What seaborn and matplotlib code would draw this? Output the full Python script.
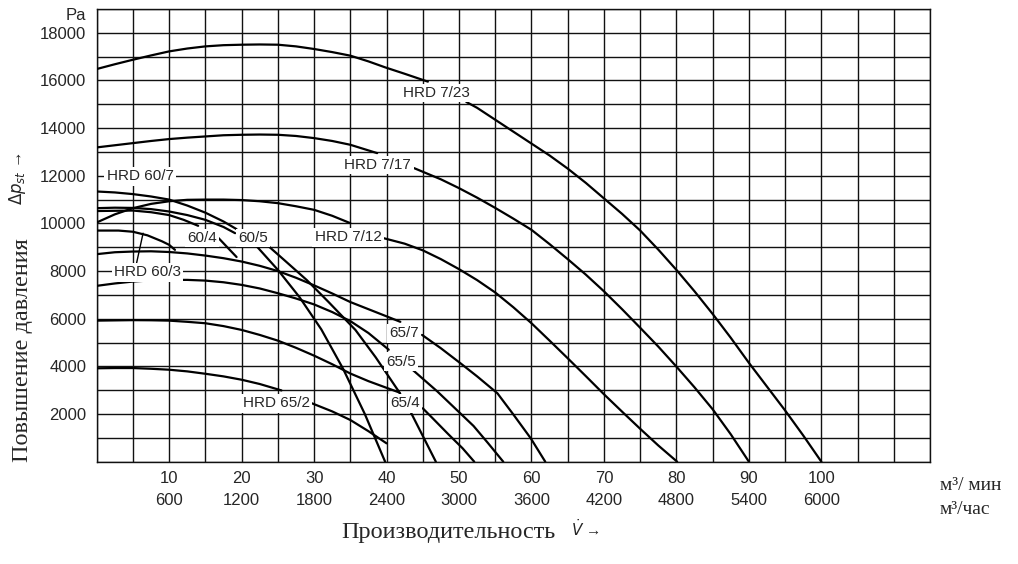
import pandas as pd
import numpy as np
import matplotlib.pyplot as plt
import seaborn as sns

# style
sns.set_style("white")
plt.rcParams['font.family'] = ['Liberation Sans', 'DejaVu Sans']
plt.rcParams['mathtext.fontset'] = 'dejavusans'

# data: flow in m3/min, pressure rise in Pa
flow_ticks = [10, 20, 30, 40, 50, 60, 70, 80, 90, 100]
flow_hour = [600, 1200, 1800, 2400, 3000, 3600, 4200, 4800, 5400, 6000]
pressure_ticks = [2000, 4000, 6000, 8000, 10000, 12000, 14000, 16000, 18000]

hrd_7_23_x = [0, 2.5, 5, 7.5, 10, 12.5, 15, 17.5, 20, 22.5, 25, 27.5, 30, 32.5, 35, 37.5, 39.8, 42.5, 45.7,
              51, 52.5, 55, 57.5, 60, 62.5, 65, 67.5, 70, 72.5, 75, 77.5, 80, 82.5, 85, 87.5, 90, 92.5, 95, 97.5, 100]
hrd_7_23_y = [16480, 16680, 16870, 17050, 17220, 17340, 17430, 17480, 17500, 17510, 17500, 17430, 17320,
              17190, 17040, 16800, 16550, 16280, 15950,
              15100, 14850, 14350, 13850, 13350, 12850, 12300, 11700, 11050, 10400, 9700, 8900, 8050,
              7150, 6200, 5200, 4150, 3150, 2150, 1100, 0]

hrd_7_17_x = [0, 2.5, 5, 7.5, 10, 12.5, 15, 17.5, 20, 22.5, 25, 27.5, 30, 32.5, 35, 38.7,
              43.8, 47.5, 50, 52.5, 55, 57.5, 60, 62.5, 65, 67.5, 70, 72.5, 75, 77.5, 80, 82.5, 85, 87.5, 90]
hrd_7_17_y = [13190, 13280, 13370, 13460, 13540, 13600, 13650, 13700, 13720, 13730, 13720, 13670, 13580,
              13460, 13300, 12950,
              12320, 11850, 11480, 11080, 10650, 10200, 9730, 9130, 8500, 7850, 7150, 6400, 5620, 4830,
              3990, 3120, 2200, 1150, 0]

hrd_7_12_x = [0, 2.5, 5, 7.5, 10, 12.5, 15, 17.5, 20, 22.5, 25, 27.5, 30, 32.5, 35,
              39.6, 42.5, 45, 47.5, 50, 52.5, 55, 57.5, 60, 62.5, 65, 67.5, 70, 72.5, 75, 77.5, 80.1]
hrd_7_12_y = [10040, 10380, 10640, 10820, 10930, 10990, 11000, 11000, 10980, 10930, 10850, 10720, 10570,
              10320, 10010,
              9380, 9150, 8870, 8500, 8080, 7620, 7100, 6480, 5810, 5080, 4340, 3590, 2830, 2100, 1380, 680, 0]

hrd_60_7_x = [0, 2.5, 5, 7.5, 10, 12.5, 15, 17.5, 19.3, 21.9, 25, 28, 31, 34, 37, 39.8]
hrd_60_7_y = [11340, 11300, 11230, 11130, 11000, 10750, 10450, 10080, 9760,
              9100, 8050, 6900, 5550, 3900, 2000, 0]

hrd_60_5_x = [0, 2.5, 5, 7.5, 10, 12.5, 15, 17.5, 19.1, 23.5, 26, 29, 32, 35.7, 38.5, 41.7, 43.3, 46.8]
hrd_60_5_y = [10640, 10660, 10650, 10600, 10500, 10350, 10150, 9850, 9590,
              9100, 8430, 7620, 6700, 5530, 4380, 2940, 2100, 0]

hrd_60_4_x = [0, 5, 7.5, 10, 12, 14, 16.8, 19.3]
hrd_60_4_y = [10520, 10540, 10470, 10350, 10150, 9900, 9390, 8590]

hrd_60_3_x = [0, 3, 5, 7, 9, 10, 10.8]
hrd_60_3_y = [9700, 9700, 9650, 9500, 9250, 9100, 8890]

hrd_65_7_x = [0, 2.5, 5, 7.5, 10, 12.5, 15, 17.5, 20, 22.5, 25, 27.5, 30, 32.5, 35, 37.5, 40, 41.9,
              44.9, 47.5, 50.2, 52.5, 55.3, 57.5, 59.9, 61.9]
hrd_65_7_y = [8710, 8790, 8820, 8830, 8800, 8740, 8650, 8540, 8400, 8220, 8000, 7720, 7400, 7060, 6700,
              6400, 6100, 5870,
              5320, 4760, 4130, 3580, 2870, 1980, 980, 0]

hrd_65_5_x = [0, 2.5, 5, 7.5, 10, 12.5, 15, 17.5, 20, 22.5, 25, 27.5, 30, 32.5, 35, 37.5, 40.3,
              43.5, 47, 50, 52, 54, 56.1]
hrd_65_5_y = [7380, 7480, 7560, 7610, 7630, 7630, 7600, 7530, 7420, 7270, 7070, 6850, 6600, 6280, 5900,
              5400, 4700,
              3880, 2950, 2080, 1500, 780, 0]

hrd_65_4_x = [0, 2.5, 5, 7.5, 10, 12.5, 15, 17.5, 20, 22.5, 25, 27.5, 30, 32.5, 35, 37.5, 40, 41.8,
              45, 46.5, 48.5, 50.5, 52.1]
hrd_65_4_y = [5920, 5930, 5940, 5935, 5920, 5870, 5810, 5690, 5530, 5320, 5080, 4780, 4450, 4090, 3700,
              3380, 3100, 2900,
              2240, 1780, 1160, 560, 0]

hrd_65_2_x = [0, 2.5, 5, 7.5, 10, 12.5, 15, 17.5, 20, 22.5, 25.5, 29.7, 32.5, 35, 37.5, 40]
hrd_65_2_y = [3920, 3930, 3930, 3900, 3860, 3790, 3690, 3580, 3440, 3260, 2990,
              2450, 2110, 1750, 1280, 770]

# curve name, x, y, first point after the gap left for its label
curves = [
    ("HRD 7/23", hrd_7_23_x, hrd_7_23_y, 19),
    ("HRD 7/17", hrd_7_17_x, hrd_7_17_y, 16),
    ("HRD 7/12", hrd_7_12_x, hrd_7_12_y, 15),
    ("HRD 60/7", hrd_60_7_x, hrd_60_7_y, 9),
    ("HRD 60/5", hrd_60_5_x, hrd_60_5_y, 9),
    ("HRD 60/4", hrd_60_4_x, hrd_60_4_y, 6),
    ("HRD 60/3", hrd_60_3_x, hrd_60_3_y, 99),
    ("HRD 65/7", hrd_65_7_x, hrd_65_7_y, 18),
    ("HRD 65/5", hrd_65_5_x, hrd_65_5_y, 17),
    ("HRD 65/4", hrd_65_4_x, hrd_65_4_y, 18),
    ("HRD 65/2", hrd_65_2_x, hrd_65_2_y, 11),
]

rows = []
for name, xs, ys, gap in curves:
    for i, (x, y) in enumerate(zip(xs, ys)):
        rows.append({"flow": x, "pressure": y, "piece": name + ("-b" if i >= gap else "-a")})
df = pd.DataFrame(rows)

# figure
fig = plt.figure(figsize=(10.18, 5.64), dpi=100)
ax = fig.add_axes([0.095, 0.1814, 0.8186, 0.8027])

sns.lineplot(data=df, x="flow", y="pressure", units="piece", estimator=None, sort=False,
             color="black", lw=1.6, ax=ax, legend=False, zorder=3)

ax.set_xlim(0, 115)
ax.set_ylim(0, 19000)
ax.set_xticks(np.arange(0, 116, 5))
ax.set_xticklabels([f"{v}\n{flow_hour[flow_ticks.index(v)]}" if v in flow_ticks else ""
                    for v in range(0, 116, 5)], fontsize=12, linespacing=1.6)
ax.set_yticks(np.arange(0, 19001, 1000))
ax.set_yticklabels([f"{v}" if v in pressure_ticks else "" for v in range(0, 19001, 1000)], fontsize=12)
ax.tick_params(length=0, pad=6.5)
ax.tick_params(axis="y", pad=7.5)
ax.grid(True, color="#111111", lw=1.0)
ax.set_axisbelow(True)
for s in ax.spines.values():
    s.set_color("#111111")
    s.set_linewidth(1.0)
ax.set_xlabel("")
ax.set_ylabel("")

# curve labels with white background
box = dict(boxstyle="square,pad=0.15", fc="white", ec="none")
label_pos = {
    "HRD 7/23": (46.9, 15470), "HRD 7/17": (38.8, 12460), "HRD 7/12": (34.7, 9420),
    "HRD 60/7": (6.0, 11970), "60/4": (14.5, 9380), "60/5": (21.6, 9380),
    "HRD 65/2": (24.8, 2450), "65/7": (42.4, 5390), "65/5": (42.0, 4200), "65/4": (42.5, 2450),
}
for txt, (x, y) in label_pos.items():
    ax.text(x, y, txt, ha="center", va="center", fontsize=11, bbox=box, zorder=5)

ax.annotate("HRD 60/3", xy=(6.4, 9590), xytext=(7.0, 7940), ha="center", va="center",
            fontsize=11, bbox=box, zorder=5,
            arrowprops=dict(arrowstyle="-", lw=1.0, color="black", relpos=(0.33, 1.0),
                            shrinkA=0, shrinkB=0))

# axis captions
fig.text(0.0845, 0.973, "Pa", ha="right", va="center", fontsize=12)
fig.text(0.022, 0.379, "Повышение давления", rotation=90, ha="center", va="center",
         fontsize=17.5, family="Liberation Serif")
fig.text(0.017, 0.684, r"$\Delta p_{st}$ →", rotation=90, ha="center", va="center", fontsize=12)
fig.text(0.440, 0.055, "Производительность", ha="center", va="center",
         fontsize=17.5, family="Liberation Serif")
fig.text(0.575, 0.063, r"$\dot{V}$ →", ha="center", va="center", fontsize=11)
fig.text(0.923, 0.140, "м³/ мин", ha="left", va="center", fontsize=14, family="Liberation Serif")
fig.text(0.923, 0.096, "м³/час", ha="left", va="center", fontsize=14, family="Liberation Serif")

fig.savefig("out.png", dpi=100)
